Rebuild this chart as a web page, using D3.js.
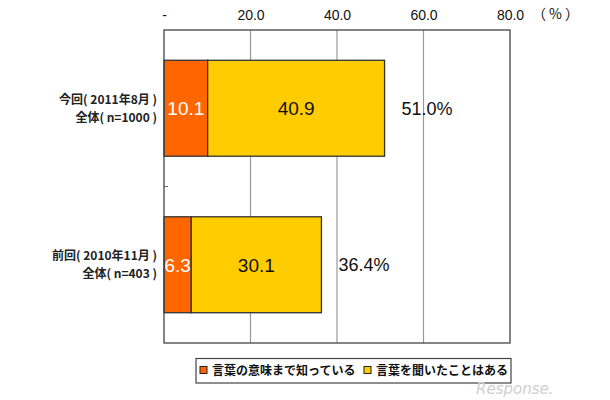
<!DOCTYPE html>
<html><head><meta charset="utf-8">
<script src="https://cdn.jsdelivr.net/npm/d3@7"></script>
<style>
body{margin:0;background:#fff;}
text{font-family:"Liberation Sans","Noto Sans CJK JP",sans-serif;}
</style></head>
<body>
<svg id="c" width="610" height="400"></svg>
<script>
const categories = [["今回( 2011年8月 )","全体( n=1000 )"],["前回( 2010年11月 )","全体( n=403 )"]];
const seriesNames = ["言葉の意味まで知っている","言葉を聞いたことはある"];
const knowMeaning = [10.1, 6.3];
const heardWord = [40.9, 30.1];
const totals = [51.0, 36.4];
const tickValues = [0,20,40,60,80];
const colors = ["#FF6600","#FFCC00"];

const svg = d3.select("#c");
const L=164, R=510, T=30, B=343;
const x = d3.scaleLinear().domain([0,80]).range([L,R]);
const y = d3.scaleBand().domain(d3.range(categories.length)).range([T,B]).paddingInner(0.387).paddingOuter(0.1935);

// gridlines
svg.append("g").selectAll("line").data(tickValues.slice(1,-1)).join("line")
  .attr("x1",d=>x(d)).attr("x2",d=>x(d)).attr("y1",T).attr("y2",B)
  .attr("stroke","#999").attr("stroke-width",1.2);

// top axis labels
const ax = svg.append("g").attr("transform",`translate(0,${T-8})`)
  .call(d3.axisTop(x).tickValues(tickValues).tickSize(0).tickFormat(d=>d===0?"-":d.toFixed(1)));
ax.select(".domain").remove();
ax.selectAll("text").attr("font-size",14).attr("fill","#111").attr("dy","0.05em")
  .style("font-family","Liberation Sans, sans-serif");
svg.append("text").attr("x",x(80)+22).attr("y",T-16).attr("dy","0.35em")
  .attr("font-size",14).attr("fill","#111").attr("letter-spacing",3)
  .style("font-family","Noto Sans CJK JP, sans-serif").text("（%）");

// bars
const stacks = categories.map((c,i)=>[[0,knowMeaning[i]],[knowMeaning[i],knowMeaning[i]+heardWord[i]]]);
const g = svg.append("g");
stacks.forEach((s,i)=>{
  s.forEach((seg,j)=>{
    g.append("rect").attr("x",x(seg[0])).attr("y",y(i))
      .attr("width",x(seg[1])-x(seg[0])).attr("height",y.bandwidth())
      .attr("fill",colors[j]).attr("stroke","#333").attr("stroke-width",1.3);
    const val = j===0?knowMeaning[i]:heardWord[i];
    g.append("text").attr("x",(x(seg[0])+x(seg[1]))/2).attr("y",y(i)+y.bandwidth()/2)
      .attr("dy","0.36em").attr("text-anchor","middle").attr("font-size",19)
      .attr("fill",j===0?"#fff":"#111").text(val.toFixed(1));
  });
  g.append("text").attr("x",x(totals[i])+17).attr("y",y(i)+y.bandwidth()/2)
    .attr("dy","0.36em").attr("font-size",18).attr("fill","#111").text(totals[i].toFixed(1)+"%");
  // row labels
  categories[i].forEach((line,k)=>{
    svg.append("text").attr("text-anchor","end").attr("font-size",12)
      .attr("font-weight","bold").attr("fill","#222").style("font-family","Noto Sans CJK JP, sans-serif")
      .attr("x",L-7).attr("y",y(i)+y.bandwidth()/2-8.5+k*18).attr("dy","0.35em").text(line);
  });
});

// plot border
svg.append("rect").attr("x",L).attr("y",T).attr("width",R-L).attr("height",B-T)
  .attr("fill","none").attr("stroke","#444").attr("stroke-width",1.3);
// category separator tick
const mid = (y(0)+y.bandwidth()+y(1))/2;
svg.append("line").attr("x1",L).attr("x2",L+4).attr("y1",mid).attr("y2",mid)
  .attr("stroke","#666").attr("stroke-width",1);

// legend
const lg = svg.append("g");
lg.append("rect").attr("x",196).attr("y",358.5).attr("width",315).attr("height",24.5)
  .attr("fill","#fff").attr("stroke","#444").attr("stroke-width",1.2);
const legX = [200,364];
seriesNames.forEach((n,j)=>{
  lg.append("rect").attr("x",legX[j]).attr("y",366.5).attr("width",7).attr("height",7)
    .attr("fill",colors[j]).attr("stroke","#222").attr("stroke-width",1);
  lg.append("text").attr("x",legX[j]+12).attr("y",370.5).attr("dy","0.36em")
    .attr("font-size",12).attr("font-weight","bold").attr("fill","#111")
    .style("font-family","Noto Sans CJK JP, sans-serif").text(n);
});

// watermark
svg.append("text").attr("x",476).attr("y",394).attr("font-size",15).attr("fill","#cfcfcf")
  .attr("font-style","italic").style("font-family","DejaVu Sans, sans-serif").text("Response.");
</script>
</body></html>
